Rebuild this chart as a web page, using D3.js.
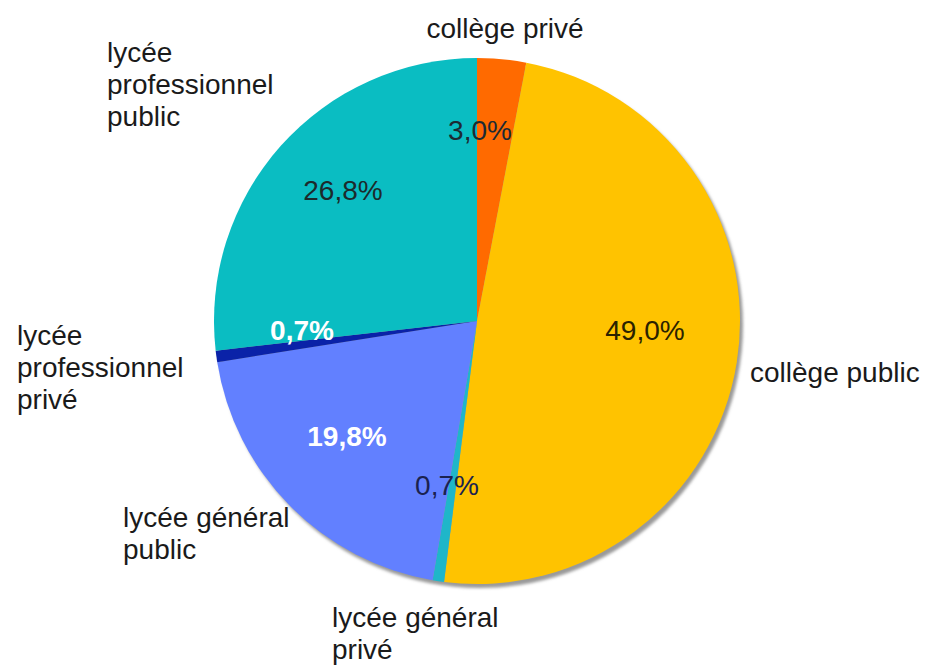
<!DOCTYPE html>
<html>
<head>
<meta charset="utf-8">
<script src="https://cdn.jsdelivr.net/npm/d3@7"></script>
<style>
  html, body { margin: 0; padding: 0; background: #fff; }
  svg { display: block; }
  text { font-family: "Liberation Sans", Arial, sans-serif; }
</style>
</head>
<body>
<svg id="chart" width="930" height="666"></svg>
<script>
// ---- data ----
const categories = [
  "collège privé",
  "collège public",
  "lycée général privé",
  "lycée général public",
  "lycée professionnel privé",
  "lycée professionnel public"
];
const values = [3.0, 49.0, 0.7, 19.8, 0.7, 26.8];
const valueLabels = ["3,0%", "49,0%", "0,7%", "19,8%", "0,7%", "26,8%"];

// ---- styling / layout ----
const colors = ["#FF6A00", "#FFC300", "#1FB6C9", "#6280FF", "#0A22A8", "#0ABDC2"];
const valueTextColors = ["#1c2a33", "#2a2200", "#1a2250", "#ffffff", "#ffffff", "#1c2a2c"];
const valueBold = [false, false, false, true, true, false];
// value label positions (relative to pie centre)
const valueLabelPos = [[3, -191], [168, 9], [-30, 164], [-130, 115], [-175, 9], [-134, -131]];
// category label line breaks and anchor positions (absolute)
const catLines = [
  ["collège privé"],
  ["collège public"],
  ["lycée général", "privé"],
  ["lycée général", "public"],
  ["lycée", "professionnel", "privé"],
  ["lycée", "professionnel", "public"]
];
const catPos = [[505, 38, "middle"], [750, 382, "start"], [332, 627, "start"], [123, 527, "start"], [17, 345, "start"], [107, 62, "start"]];

const cx = 477, cy = 321, R = 263;
const fontSize = 28, lineH = 32;

const svg = d3.select("#chart");

const defs = svg.append("defs");
const f = defs.append("filter").attr("id", "blur").attr("x", "-10%").attr("y", "-10%").attr("width", "120%").attr("height", "120%");
f.append("feGaussianBlur").attr("stdDeviation", 1.5);

const pie = d3.pie().sort(null).value(d => d)(values);
const arc = d3.arc().innerRadius(0).outerRadius(R);

// shadow
svg.append("circle")
  .attr("cx", cx + 3).attr("cy", cy + 4).attr("r", R)
  .attr("fill", "#9a9a9a").attr("filter", "url(#blur)");

const g = svg.append("g").attr("transform", `translate(${cx},${cy})`);
g.selectAll("path.slice")
  .data(pie)
  .join("path")
  .attr("class", "slice")
  .attr("d", arc)
  .attr("fill", (d, i) => colors[i]);

// value labels
g.selectAll("text.val")
  .data(pie)
  .join("text")
  .attr("class", "val")
  .attr("x", (d, i) => valueLabelPos[i][0])
  .attr("y", (d, i) => valueLabelPos[i][1])
  .attr("dy", "0.35em")
  .attr("text-anchor", "middle")
  .attr("font-size", fontSize)
  .attr("font-weight", (d, i) => valueBold[i] ? "bold" : "normal")
  .attr("fill", (d, i) => valueTextColors[i])
  .text((d, i) => valueLabels[i]);

// category labels
categories.forEach((c, i) => {
  const t = svg.append("text")
    .attr("x", catPos[i][0]).attr("y", catPos[i][1])
    .attr("text-anchor", catPos[i][2])
    .attr("font-size", fontSize)
    .attr("fill", "#1a1a1a");
  catLines[i].forEach((ln, j) => {
    t.append("tspan").attr("x", catPos[i][0]).attr("y", catPos[i][1] + j * lineH).text(ln);
  });
});
</script>
</body>
</html>
